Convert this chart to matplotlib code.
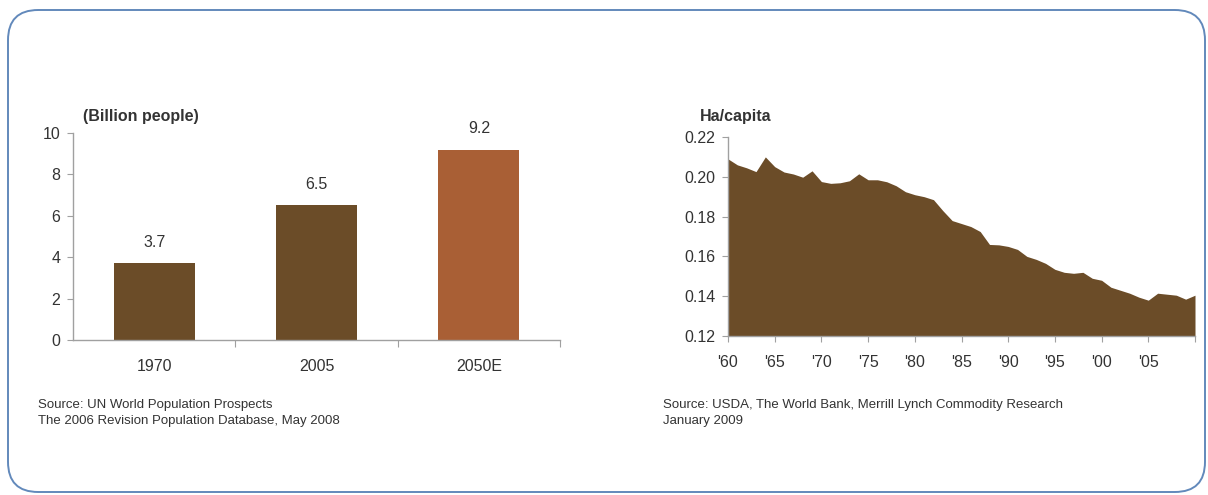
import matplotlib.pyplot as plt
from matplotlib.patches import FancyBboxPatch

# left panel: world population
POP_YEARS = ["1970", "2005", "2050E"]
POP_VALUES = [3.7, 6.5, 9.2]
POP_COLORS = ["#6b4c28", "#6b4c28", "#a95f35"]

# right panel: arable land per capita
LAND_YEARS = list(range(1960, 2011))
LAND_VALUES = [
    0.209, 0.206, 0.2045, 0.2026, 0.210, 0.2051, 0.2024, 0.2014, 0.1998, 0.203,
    0.1976, 0.1967, 0.197, 0.198, 0.2015, 0.1985, 0.1985, 0.1975, 0.1955, 0.1925,
    0.191, 0.190, 0.1885, 0.183, 0.178, 0.1765, 0.175, 0.1725, 0.166, 0.1658,
    0.165, 0.1635, 0.160, 0.1585, 0.1565, 0.1535, 0.152, 0.1515, 0.152, 0.149,
    0.148, 0.1445, 0.143, 0.1415, 0.1395, 0.138, 0.1415, 0.141, 0.1405, 0.1385,
    0.1405,
]
LAND_TICKS = [1960, 1965, 1970, 1975, 1980, 1985, 1990, 1995, 2000, 2005, 2010]
LAND_TICK_LABELS = ["'60", "'65", "'70", "'75", "'80", "'85", "'90", "'95", "'00", "'05", ""]

TEXT = "#333333"
AXIS = "#a0a0a0"
BROWN = "#6b4c28"

plt.rcParams["font.family"] = ["Liberation Sans", "DejaVu Sans"]

fig = plt.figure(figsize=(12.08, 4.95), dpi=100)

# rounded frame around everything
frame = FancyBboxPatch((8 / 1208, 3 / 495), 1197 / 1208, 482 / 495,
                       boxstyle="round,pad=0,rounding_size=0.025",
                       transform=fig.transFigure, fill=False,
                       edgecolor="#6289bb", linewidth=1.4, mutation_aspect=2.44)
fig.patches.append(frame)


def style_axes(ax):
    for side in ["top", "right"]:
        ax.spines[side].set_visible(False)
    for side in ["left", "bottom"]:
        ax.spines[side].set_color(AXIS)
        ax.spines[side].set_linewidth(1.0)
    ax.tick_params(colors=AXIS, labelcolor=TEXT, labelsize=11.5, length=4)
    ax.tick_params(axis="x", pad=10)
    ax.tick_params(axis="y", pad=5)


# --- bars ---
ax1 = fig.add_axes([73 / 1208, 1 - 340 / 495, 487 / 1208, 207 / 495])
xs = range(len(POP_YEARS))
bars = ax1.bar(xs, POP_VALUES, width=0.5, color=POP_COLORS)
for b, v in zip(bars, POP_VALUES):
    ax1.annotate(f"{v:.1f}", (b.get_x() + b.get_width() / 2, v),
                 xytext=(0, 10), textcoords="offset points",
                 ha="center", va="bottom", fontsize=11.5, color=TEXT)
ax1.set_xlim(-0.5, 2.5)
ax1.set_ylim(0, 10)
ax1.set_yticks([0, 2, 4, 6, 8, 10])
ax1.set_xticks([0.5, 1.5, 2.5], minor=False)
ax1.set_xticklabels([])
ax1.set_xticks(list(xs), minor=True)
ax1.set_xticklabels(POP_YEARS, minor=True)
style_axes(ax1)
ax1.tick_params(axis="x", which="minor", length=0, pad=14, labelsize=11.5, labelcolor=TEXT)
ax1.tick_params(axis="x", which="major", length=5)

fig.text(83 / 1208, 1 - 116 / 495, "(Billion people)", fontsize=11.5,
         fontweight="bold", color=TEXT, va="center")
fig.text(38 / 1208, 1 - 405 / 495, "Source: UN World Population Prospects",
         fontsize=9.5, color=TEXT, va="center")
fig.text(38 / 1208, 1 - 421 / 495, "The 2006 Revision Population Database, May 2008",
         fontsize=9.5, color=TEXT, va="center")

# --- area ---
ax2 = fig.add_axes([728 / 1208, 1 - 336 / 495, 467 / 1208, 199 / 495])
ax2.fill_between(LAND_YEARS, LAND_VALUES, 0.12, color=BROWN, linewidth=0)
ax2.set_xlim(1960, 2010)
ax2.set_ylim(0.12, 0.22)
ax2.set_yticks([0.12, 0.14, 0.16, 0.18, 0.20, 0.22])
ax2.set_yticklabels([f"{t:.2f}" for t in [0.12, 0.14, 0.16, 0.18, 0.20, 0.22]])
ax2.set_xticks(LAND_TICKS)
ax2.set_xticklabels(LAND_TICK_LABELS)
style_axes(ax2)

fig.text(700 / 1208, 1 - 116 / 495, "Ha/capita", fontsize=11.5,
         fontweight="bold", color=TEXT, va="center")
fig.text(663 / 1208, 1 - 405 / 495,
         "Source: USDA, The World Bank, Merrill Lynch Commodity Research",
         fontsize=9.5, color=TEXT, va="center")
fig.text(663 / 1208, 1 - 421 / 495, "January 2009",
         fontsize=9.5, color=TEXT, va="center")

fig.savefig("out.png", dpi=100)
